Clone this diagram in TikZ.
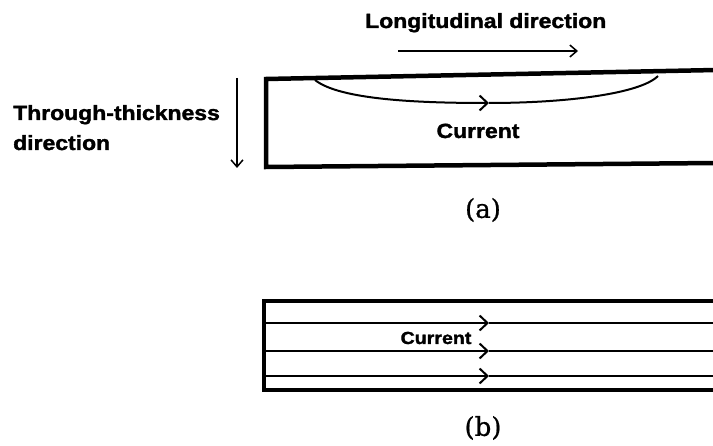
\documentclass[tikz,border=0pt]{standalone}
\usepackage{fontspec}
\setsansfont[BoldFeatures={FakeBold=1.5}]{Liberation Sans}
\newfontfamily\labfont[FakeBold=0.8]{DejaVu Serif}
\usetikzlibrary{arrows.meta}
\newcommand\wtxt[1]{\scalebox{1.12}[1]{#1}}
\begin{document}
\begin{tikzpicture}[x=1pt,y=-1pt,
  lbl/.style={inner sep=0pt, font=\sffamily\bfseries\fontsize{20.5}{24}\selectfont},
  smlbl/.style={inner sep=0pt, font=\sffamily\bfseries\fontsize{17.5}{20}\selectfont},
  caption/.style={inner sep=0pt, font=\labfont\fontsize{26}{30}\selectfont},
  plate/.style={line width=4.5pt, line join=miter},
  flow/.style={line width=2pt},
  barb/.style={-{Straight Barb[length=8pt,width=15pt,line width=2pt]}},
  dirarrow/.style={line width=1.5pt, -{Straight Barb[length=7pt,width=12pt,line width=1.5pt]}}]
\fill[white] (0,0) rectangle (713,446);
\useasboundingbox (0,0) rectangle (713,446);

% ---- (a) ----
\node[lbl, anchor=base west] (long) at (365,28) {\wtxt{Longitudinal direction}};
\coordinate (longs) at (398,51);
\coordinate (longe) at (578,51);
\draw[dirarrow] (longs) -- (longe);

\node[lbl, anchor=base west] (thr1) at (13,120) {\wtxt{Through-thickness}};
\node[lbl, anchor=base west] (thr2) at (13,150) {\wtxt{direction}};
\coordinate (ths) at (237,78);
\coordinate (the) at (237,168);
\draw[dirarrow] (ths) -- (the);

\draw[plate] (716,70) -- (266,79) -- (266,167) -- (716,163);

\coordinate (arcA) at (315,80);
\coordinate (arcM) at (489,103);
\coordinate (arcB) at (658,76);
\draw[flow, barb] (arcA) .. controls (340,100) and (420,103) .. (arcM);
\draw[flow] (arcM) .. controls (565,103) and (640,94) .. (arcB);
\node[lbl, anchor=base] (curA) at (478,138) {\wtxt{Current}};

\node[caption] (capa) at (483,210) {(a)};

% ---- (b) ----
\draw[plate] (716,301) -- (264,301) -- (264,390) -- (716,390);
\foreach \yy/\nm in {323/l1, 351/l2, 376/l3} {
  \coordinate (\nm s) at (264,\yy);
  \coordinate (\nm m) at (489,\yy);
  \coordinate (\nm e) at (716,\yy);
  \draw[flow, barb] (\nm s) -- (\nm m);
  \draw[flow] (\nm m) -- (\nm e);
}
\node[smlbl, anchor=base] (curB) at (436,344) {\wtxt{Current}};

\node[caption] (capb) at (483,428) {(b)};
\end{tikzpicture}
\end{document}
